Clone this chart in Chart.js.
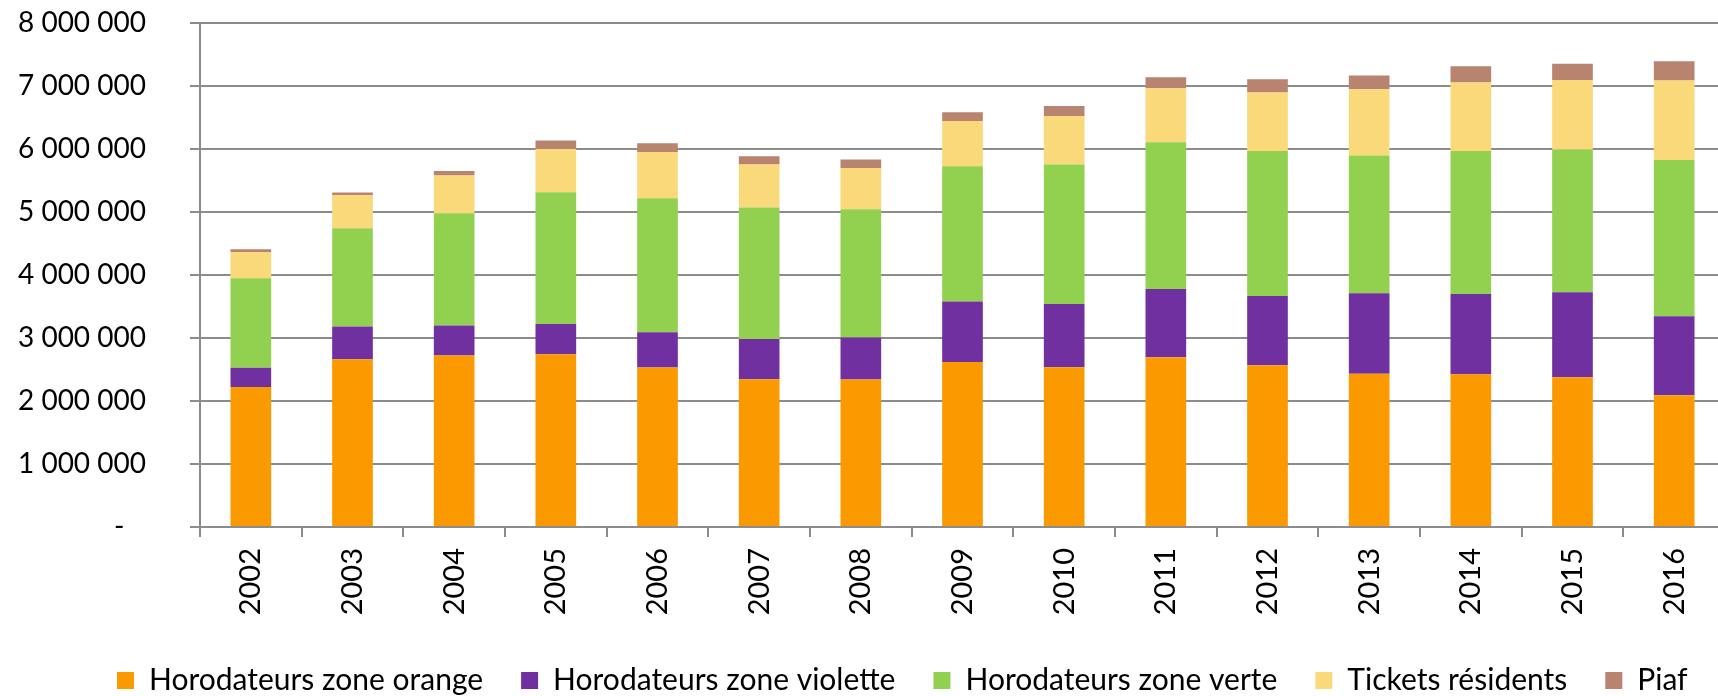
<!DOCTYPE html>
<html>
<head>
<meta charset="utf-8">
<script src="https://cdn.jsdelivr.net/npm/chart.js@4/dist/chart.umd.min.js"></script>
<style>
  html, body { margin: 0; padding: 0; background: #fff; overflow: hidden; width: 1718px; height: 696px; }
  #wrap { position: absolute; left: 0; top: 0; width: 1725px; height: 696px; }
</style>
</head>
<body>
<div id="wrap"><canvas id="c"></canvas></div>
<script>
const years = ['2002','2003','2004','2005','2006','2007','2008','2009','2010','2011','2012','2013','2014','2015','2016'];
const zoneOrange   = [2221000, 2663000, 2721000, 2741000, 2530000, 2344000, 2340000, 2619000, 2535000, 2694000, 2567000, 2434000, 2424000, 2376000, 2090000];
const zoneViolette = [306000, 521000, 476000, 481000, 560000, 640000, 666000, 959000, 1005000, 1084000, 1100000, 1276000, 1274000, 1349000, 1254000];
const zoneVerte    = [1422000, 1559000, 1782000, 2091000, 2127000, 2086000, 2037000, 2147000, 2212000, 2328000, 2301000, 2185000, 2270000, 2265000, 2481000];
const ticketsResidents = [415000, 522000, 599000, 687000, 735000, 682000, 655000, 719000, 772000, 857000, 927000, 1053000, 1086000, 1105000, 1261000];
const piaf         = [46000, 46000, 73000, 133000, 138000, 132000, 134000, 139000, 159000, 175000, 211000, 217000, 259000, 260000, 306000];
const seriesNames = ['Horodateurs zone orange', 'Horodateurs zone violette', 'Horodateurs zone verte', 'Tickets résidents', 'Piaf'];

const colors = ['#FB9900', '#7030A0', '#92D050', '#FAD97A', '#B8836F'];
const seriesData = [zoneOrange, zoneViolette, zoneVerte, ticketsResidents, piaf];

const FONT = 'Lato, "Open Sans", sans-serif';
const GRID = '#8c8c8c';
const LEGEND_H = 40;
const LEGEND_PAD = 38;

function fmt(v) {
  if (v === 0) return '-   ';
  return String(Math.round(v)).replace(/\B(?=(\d{3})+(?!\d))/g, ' ');
}

// keep the bottom legend short vertically while using wide horizontal gaps
const LegendEl = Chart.Legend && Chart.Legend._element;
if (LegendEl) {
  const origFit = LegendEl.prototype.fit;
  LegendEl.prototype.fit = function () {
    origFit.call(this);
    if (this.isHorizontal()) this.height = LEGEND_H;
  };
}

const legendShift = {
  id: 'legendShift',
  afterLayout(chart) {
    const lg = chart.legend;
    if (!lg) return;
    const pad = lg.options.labels.padding;
    lg.left = 117 - pad;
    lg.right = lg.left + 3000;
    lg.top = 665.5 - pad;
  }
};

new Chart(document.getElementById('c'), {
  type: 'bar',
  data: {
    labels: years,
    datasets: seriesData.map((d, i) => ({
      label: seriesNames[i],
      data: d,
      backgroundColor: colors[i],
      borderWidth: 0,
      barPercentage: 0.4,
      categoryPercentage: 1.0
    }))
  },
  options: {
    responsive: true,
    maintainAspectRatio: false,
    animation: false,
    layout: { padding: { top: 23, right: 0, left: 0, bottom: 0 } },
    plugins: {
      tooltip: { enabled: false },
      legend: {
        position: 'bottom',
        align: 'start',
        labels: {
          font: { family: FONT, size: 30 },
          color: '#000',
          boxWidth: 17,
          boxHeight: 17,
          padding: LEGEND_PAD
        }
      }
    },
    scales: {
      x: {
        stacked: true,
        afterFit(scale) { scale.height = 696 - LEGEND_H - 527; },
        grid: { offset: true, drawOnChartArea: false, drawTicks: true, tickLength: 10, color: GRID, lineWidth: 2 },
        border: { display: true, color: GRID, width: 2 },
        ticks: { font: { family: FONT, size: 29 }, color: '#000', minRotation: 90, maxRotation: 90, padding: 11, autoSkip: false }
      },
      y: {
        stacked: true,
        min: 0,
        max: 8000000,
        afterFit(scale) { scale.width = 200; scale.paddingTop = 17; scale.paddingBottom = 17; },
        grid: { color: GRID, lineWidth: 2, tickLength: 10, drawTicks: true },
        border: { display: true, color: GRID, width: 2 },
        ticks: { stepSize: 1000000, font: { family: FONT, size: 28 }, color: '#000', padding: 44, callback: (v) => fmt(v) }
      }
    }
  },
  plugins: [legendShift]
});
</script>
</body>
</html>
